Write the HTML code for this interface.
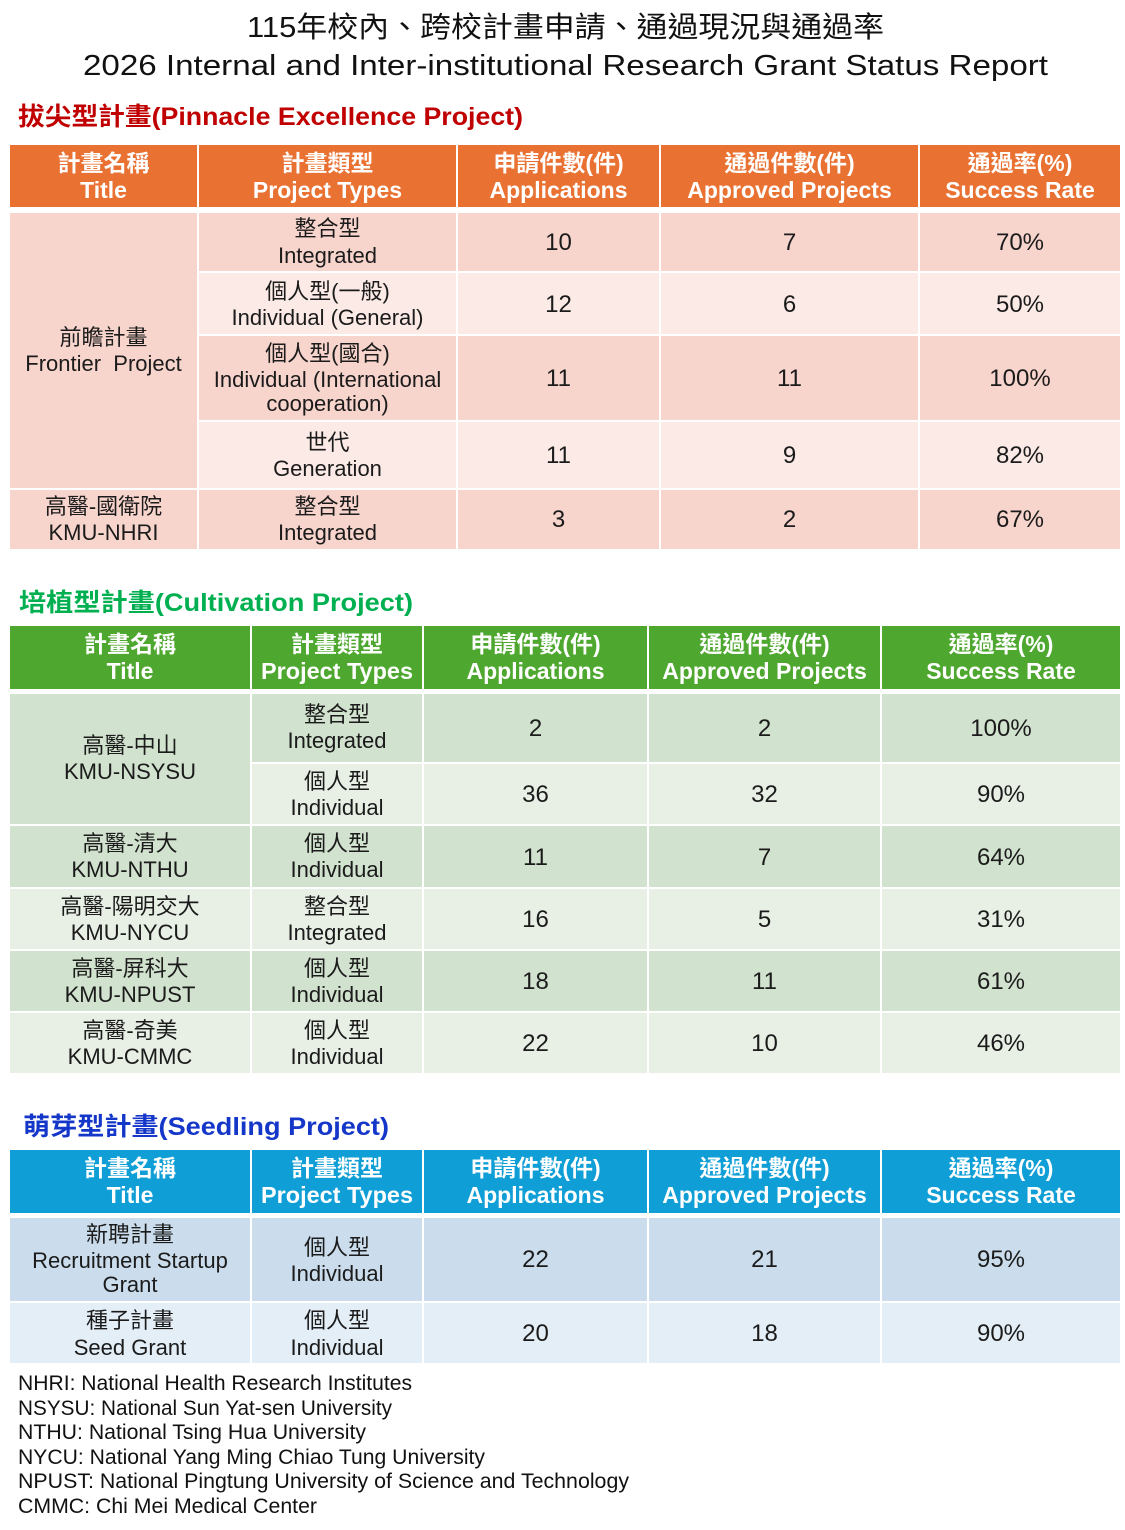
<!DOCTYPE html>
<html>
<head>
<meta charset="utf-8">
<style>
  html,body{margin:0;padding:0;background:#fff;}
  svg{display:block;}
  text{font-family:"Liberation Sans","Noto Sans CJK TC",sans-serif;}
  .h{fill:#fff;font-size:23px;font-weight:bold;text-anchor:middle;}
  .b{fill:#1b1b1b;font-size:22px;text-anchor:middle;}
  .n{fill:#1b1b1b;font-size:24px;text-anchor:middle;}
  .f{fill:#111;font-size:21px;}
</style>
</head>
<body>
<svg width="1125" height="1530" viewBox="0 0 1125 1530" xmlns="http://www.w3.org/2000/svg">
<rect x="0" y="0" width="1125" height="1530" fill="#fff"/>

<!-- Titles -->
<text x="565.5" y="37" font-size="29" text-anchor="middle" fill="#111" textLength="637" lengthAdjust="spacingAndGlyphs">115年校內、跨校計畫申請、通過現況與通過率</text>
<text x="565.5" y="75" font-size="29" text-anchor="middle" fill="#111" textLength="965" lengthAdjust="spacingAndGlyphs">2026 Internal and Inter-institutional Research Grant Status Report</text>

<!-- ============ Table 1 ============ -->
<text x="18" y="125" font-size="25" font-weight="bold" fill="#C00000" textLength="505" lengthAdjust="spacingAndGlyphs">拔尖型計畫(Pinnacle Excellence Project)</text>

<g fill="#E97132">
  <rect x="10" y="145" width="187" height="62"/>
  <rect x="199" y="145" width="257" height="62"/>
  <rect x="458" y="145" width="201" height="62"/>
  <rect x="661" y="145" width="257" height="62"/>
  <rect x="920" y="145" width="200" height="62"/>
</g>
<text class="h" x="103.5" y="171">計畫名稱</text><text class="h" x="103.5" y="198">Title</text>
<text class="h" x="327.5" y="171">計畫類型</text><text class="h" x="327.5" y="198">Project Types</text>
<text class="h" x="558.5" y="171">申請件數(件)</text><text class="h" x="558.5" y="198">Applications</text>
<text class="h" x="789.5" y="171">通過件數(件)</text><text class="h" x="789.5" y="198">Approved Projects</text>
<text class="h" x="1020" y="171">通過率(%)</text><text class="h" x="1020" y="198">Success Rate</text>

<!-- body -->
<g fill="#F7D4CC">
  <rect x="10" y="213" width="187" height="275"/>
  <rect x="199" y="213" width="257" height="58"/>
  <rect x="458" y="213" width="201" height="58"/>
  <rect x="661" y="213" width="257" height="58"/>
  <rect x="920" y="213" width="200" height="58"/>
  <rect x="199" y="336" width="257" height="84"/>
  <rect x="458" y="336" width="201" height="84"/>
  <rect x="661" y="336" width="257" height="84"/>
  <rect x="920" y="336" width="200" height="84"/>
  <rect x="10" y="490" width="187" height="59"/>
  <rect x="199" y="490" width="257" height="59"/>
  <rect x="458" y="490" width="201" height="59"/>
  <rect x="661" y="490" width="257" height="59"/>
  <rect x="920" y="490" width="200" height="59"/>
</g>
<g fill="#FBEAE6">
  <rect x="199" y="273" width="257" height="61"/>
  <rect x="458" y="273" width="201" height="61"/>
  <rect x="661" y="273" width="257" height="61"/>
  <rect x="920" y="273" width="200" height="61"/>
  <rect x="199" y="422" width="257" height="66"/>
  <rect x="458" y="422" width="201" height="66"/>
  <rect x="661" y="422" width="257" height="66"/>
  <rect x="920" y="422" width="200" height="66"/>
</g>

<text class="b" x="103.5" y="345">前瞻計畫</text><text class="b" x="103.5" y="371">Frontier&#160; Project</text>

<!-- row1 c=242 -->
<text class="b" x="327.5" y="236">整合型</text><text class="b" x="327.5" y="263">Integrated</text>
<text class="n" x="558.5" y="250">10</text><text class="n" x="789.5" y="250">7</text><text class="n" x="1020" y="250">70%</text>
<!-- row2 c=303.5 -->
<text class="b" x="327.5" y="299">個人型(一般)</text><text class="b" x="327.5" y="325">Individual (General)</text>
<text class="n" x="558.5" y="312">12</text><text class="n" x="789.5" y="312">6</text><text class="n" x="1020" y="312">50%</text>
<!-- row3 c=378 -->
<text class="b" x="327.5" y="361">個人型(國合)</text><text class="b" x="327.5" y="387">Individual (International</text><text class="b" x="327.5" y="411">cooperation)</text>
<text class="n" x="558.5" y="386">11</text><text class="n" x="789.5" y="386">11</text><text class="n" x="1020" y="386">100%</text>
<!-- row4 c=455 -->
<text class="b" x="327.5" y="450">世代</text><text class="b" x="327.5" y="476">Generation</text>
<text class="n" x="558.5" y="463">11</text><text class="n" x="789.5" y="463">9</text><text class="n" x="1020" y="463">82%</text>
<!-- row5 c=519.5 -->
<text class="b" x="103.5" y="514">高醫-國衛院</text><text class="b" x="103.5" y="540">KMU-NHRI</text>
<text class="b" x="327.5" y="514">整合型</text><text class="b" x="327.5" y="540">Integrated</text>
<text class="n" x="558.5" y="527">3</text><text class="n" x="789.5" y="527">2</text><text class="n" x="1020" y="527">67%</text>

<!-- ============ Table 2 ============ -->
<text x="19" y="611" font-size="25" font-weight="bold" fill="#00B050" textLength="394" lengthAdjust="spacingAndGlyphs">培植型計畫(Cultivation Project)</text>

<g fill="#4EA72E">
  <rect x="10" y="626" width="240" height="63"/>
  <rect x="252" y="626" width="170" height="63"/>
  <rect x="424" y="626" width="223" height="63"/>
  <rect x="649" y="626" width="231" height="63"/>
  <rect x="882" y="626" width="238" height="63"/>
</g>
<text class="h" x="130" y="652">計畫名稱</text><text class="h" x="130" y="679">Title</text>
<text class="h" x="337" y="652">計畫類型</text><text class="h" x="337" y="679" textLength="152" lengthAdjust="spacingAndGlyphs">Project Types</text>
<text class="h" x="535.5" y="652">申請件數(件)</text><text class="h" x="535.5" y="679">Applications</text>
<text class="h" x="764.5" y="652">通過件數(件)</text><text class="h" x="764.5" y="679">Approved Projects</text>
<text class="h" x="1001" y="652">通過率(%)</text><text class="h" x="1001" y="679">Success Rate</text>

<g fill="#D1E2CE">
  <rect x="10" y="694" width="240" height="130"/>
  <rect x="252" y="694" width="170" height="68"/>
  <rect x="424" y="694" width="223" height="68"/>
  <rect x="649" y="694" width="231" height="68"/>
  <rect x="882" y="694" width="238" height="68"/>
  <rect x="10" y="826" width="240" height="61"/>
  <rect x="252" y="826" width="170" height="61"/>
  <rect x="424" y="826" width="223" height="61"/>
  <rect x="649" y="826" width="231" height="61"/>
  <rect x="882" y="826" width="238" height="61"/>
  <rect x="10" y="951" width="240" height="60"/>
  <rect x="252" y="951" width="170" height="60"/>
  <rect x="424" y="951" width="223" height="60"/>
  <rect x="649" y="951" width="231" height="60"/>
  <rect x="882" y="951" width="238" height="60"/>
</g>
<g fill="#E8F0E6">
  <rect x="252" y="764" width="170" height="60"/>
  <rect x="424" y="764" width="223" height="60"/>
  <rect x="649" y="764" width="231" height="60"/>
  <rect x="882" y="764" width="238" height="60"/>
  <rect x="10" y="889" width="240" height="60"/>
  <rect x="252" y="889" width="170" height="60"/>
  <rect x="424" y="889" width="223" height="60"/>
  <rect x="649" y="889" width="231" height="60"/>
  <rect x="882" y="889" width="238" height="60"/>
  <rect x="10" y="1013" width="240" height="60"/>
  <rect x="252" y="1013" width="170" height="60"/>
  <rect x="424" y="1013" width="223" height="60"/>
  <rect x="649" y="1013" width="231" height="60"/>
  <rect x="882" y="1013" width="238" height="60"/>
</g>

<text class="b" x="130" y="753">高醫-中山</text><text class="b" x="130" y="779">KMU-NSYSU</text>
<!-- r1 c=728 -->
<text class="b" x="337" y="722">整合型</text><text class="b" x="337" y="748">Integrated</text>
<text class="n" x="535.5" y="736">2</text><text class="n" x="764.5" y="736">2</text><text class="n" x="1001" y="736">100%</text>
<!-- r2 c=794 -->
<text class="b" x="337" y="789">個人型</text><text class="b" x="337" y="815">Individual</text>
<text class="n" x="535.5" y="802">36</text><text class="n" x="764.5" y="802">32</text><text class="n" x="1001" y="802">90%</text>
<!-- r3 c=856.5 -->
<text class="b" x="130" y="851">高醫-清大</text><text class="b" x="130" y="877">KMU-NTHU</text>
<text class="b" x="337" y="851">個人型</text><text class="b" x="337" y="877">Individual</text>
<text class="n" x="535.5" y="865">11</text><text class="n" x="764.5" y="865">7</text><text class="n" x="1001" y="865">64%</text>
<!-- r4 c=919 -->
<text class="b" x="130" y="914">高醫-陽明交大</text><text class="b" x="130" y="940">KMU-NYCU</text>
<text class="b" x="337" y="914">整合型</text><text class="b" x="337" y="940">Integrated</text>
<text class="n" x="535.5" y="927">16</text><text class="n" x="764.5" y="927">5</text><text class="n" x="1001" y="927">31%</text>
<!-- r5 c=981 -->
<text class="b" x="130" y="976">高醫-屏科大</text><text class="b" x="130" y="1002">KMU-NPUST</text>
<text class="b" x="337" y="976">個人型</text><text class="b" x="337" y="1002">Individual</text>
<text class="n" x="535.5" y="989">18</text><text class="n" x="764.5" y="989">11</text><text class="n" x="1001" y="989">61%</text>
<!-- r6 c=1043 -->
<text class="b" x="130" y="1038">高醫-奇美</text><text class="b" x="130" y="1064">KMU-CMMC</text>
<text class="b" x="337" y="1038">個人型</text><text class="b" x="337" y="1064">Individual</text>
<text class="n" x="535.5" y="1051">22</text><text class="n" x="764.5" y="1051">10</text><text class="n" x="1001" y="1051">46%</text>

<!-- ============ Table 3 ============ -->
<text x="23" y="1135" font-size="25" font-weight="bold" fill="#1537C9" textLength="366" lengthAdjust="spacingAndGlyphs">萌芽型計畫(Seedling Project)</text>

<g fill="#0F9ED5">
  <rect x="10" y="1150" width="240" height="63"/>
  <rect x="252" y="1150" width="170" height="63"/>
  <rect x="424" y="1150" width="223" height="63"/>
  <rect x="649" y="1150" width="231" height="63"/>
  <rect x="882" y="1150" width="238" height="63"/>
</g>
<text class="h" x="130" y="1176">計畫名稱</text><text class="h" x="130" y="1203">Title</text>
<text class="h" x="337" y="1176">計畫類型</text><text class="h" x="337" y="1203" textLength="152" lengthAdjust="spacingAndGlyphs">Project Types</text>
<text class="h" x="535.5" y="1176">申請件數(件)</text><text class="h" x="535.5" y="1203">Applications</text>
<text class="h" x="764.5" y="1176">通過件數(件)</text><text class="h" x="764.5" y="1203">Approved Projects</text>
<text class="h" x="1001" y="1176">通過率(%)</text><text class="h" x="1001" y="1203">Success Rate</text>

<g fill="#CBDDEC">
  <rect x="10" y="1218" width="240" height="83"/>
  <rect x="252" y="1218" width="170" height="83"/>
  <rect x="424" y="1218" width="223" height="83"/>
  <rect x="649" y="1218" width="231" height="83"/>
  <rect x="882" y="1218" width="238" height="83"/>
</g>
<g fill="#E4EEF6">
  <rect x="10" y="1303" width="240" height="60"/>
  <rect x="252" y="1303" width="170" height="60"/>
  <rect x="424" y="1303" width="223" height="60"/>
  <rect x="649" y="1303" width="231" height="60"/>
  <rect x="882" y="1303" width="238" height="60"/>
</g>
<!-- r1 c=1259.5 -->
<text class="b" x="130" y="1242">新聘計畫</text><text class="b" x="130" y="1268">Recruitment Startup</text><text class="b" x="130" y="1292">Grant</text>
<text class="b" x="337" y="1255">個人型</text><text class="b" x="337" y="1281">Individual</text>
<text class="n" x="535.5" y="1267">22</text><text class="n" x="764.5" y="1267">21</text><text class="n" x="1001" y="1267">95%</text>
<!-- r2 c=1333 -->
<text class="b" x="130" y="1328">種子計畫</text><text class="b" x="130" y="1355">Seed Grant</text>
<text class="b" x="337" y="1328">個人型</text><text class="b" x="337" y="1355">Individual</text>
<text class="n" x="535.5" y="1341">20</text><text class="n" x="764.5" y="1341">18</text><text class="n" x="1001" y="1341">90%</text>

<!-- Footnotes -->
<text class="f" x="18" y="1390" textLength="394" lengthAdjust="spacingAndGlyphs">NHRI: National Health Research Institutes</text>
<text class="f" x="18" y="1415" textLength="374" lengthAdjust="spacingAndGlyphs">NSYSU: National Sun Yat-sen University</text>
<text class="f" x="18" y="1439" textLength="348" lengthAdjust="spacingAndGlyphs">NTHU: National Tsing Hua University</text>
<text class="f" x="18" y="1464" textLength="467" lengthAdjust="spacingAndGlyphs">NYCU: National Yang Ming Chiao Tung University</text>
<text class="f" x="18" y="1488" textLength="611" lengthAdjust="spacingAndGlyphs">NPUST: National Pingtung University of Science and Technology</text>
<text class="f" x="18" y="1513" textLength="299" lengthAdjust="spacingAndGlyphs">CMMC: Chi Mei Medical Center</text>
</svg>
</body>
</html>
